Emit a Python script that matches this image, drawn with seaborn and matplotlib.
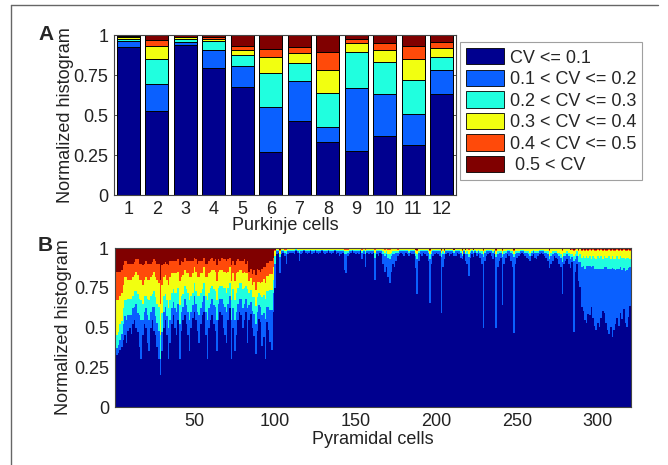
import numpy as np
import pandas as pd
import matplotlib
matplotlib.use('Agg')
import matplotlib.pyplot as plt
from matplotlib.patches import Patch
from matplotlib.lines import Line2D
import seaborn as sns

sns.set_theme(style='white')
plt.rcParams['font.family'] = ['Liberation Sans', 'DejaVu Sans']

# 图例标签与颜色 (jet)
bin_labels = ['CV <= 0.1', '0.1 < CV <= 0.2', '0.2 < CV <= 0.3',
              '0.3 < CV <= 0.4', '0.4 < CV <= 0.5', ' 0.5 < CV']
colors = ['#00008F', '#0A60FF', '#20FFDF', '#F2FF10', '#FF4A0A', '#800000']

# A: Purkinje cells
purkinje_cells = list(range(1, 13))
pk_cv01 = [.927, .525, .938, .792, .677, .271, .463, .333, .277, .371, .313, .631]
pk_cv02 = [.038, .167, .020, .112, .129, .281, .250, .094, .394, .258, .191, .148]
pk_cv03 = [.010, .156, .015, .061, .067, .213, .110, .208, .221, .202, .215, .081]
pk_cv04 = [.015, .083, .012, .012, .033, .100, .062, .146, .060, .075, .129, .057]
pk_cv05 = [.005, .038, .005, .008, .025, .048, .038, .115, .025, .046, .085, .041]
pk_cv06 = [.005, .031, .010, .015, .069, .088, .077, .104, .023, .048, .067, .042]

# B: Pyramidal cells (percent, normalized later)
pyr_cv01 = [
    33, 33, 34, 36, 38, 42, 45, 40, 48, 50, 46, 52, 55, 50, 47, 38, 30, 45, 52, 50,
    40, 35, 50, 55, 48, 45, 38, 30, 20, 35, 50, 55, 45, 30, 40, 52, 58, 50, 45, 55,
    30, 48, 55, 58, 52, 45, 35, 50, 56, 60, 55, 48, 40, 52, 58, 60, 45, 30, 50, 55,
    58, 52, 48, 35, 55, 60, 58, 50, 45, 40, 55, 62, 30, 50, 35, 45, 55, 60, 58, 50,
    55, 60, 40, 58, 62, 55, 48, 35, 50, 60, 58, 40, 45, 30, 55, 50, 40, 35, 60, 75,
    96, 97, 85, 96, 97, 95, 90, 96, 97, 98, 97, 96, 98, 97, 92, 96, 97, 98, 97, 96,
    97, 98, 96, 97, 98, 97, 96, 97, 98, 97, 96, 97, 98, 97, 96, 97, 98, 96, 97, 95,
    96, 97, 86, 84, 95, 96, 97, 98, 97, 96, 97, 96, 98, 93, 96, 88, 97, 96, 97, 96,
    97, 80, 96, 95, 97, 96, 90, 85, 88, 82, 78, 85, 90, 88, 92, 95, 96, 97, 96, 95,
    97, 96, 95, 97, 96, 96, 88, 72, 92, 96, 95, 97, 96, 95, 92, 66, 90, 95, 96, 97,
    96, 95, 60, 88, 94, 96, 97, 95, 96, 97, 96, 95, 97, 96, 94, 95, 96, 93, 90, 83,
    94, 96, 95, 97, 95, 96, 94, 90, 50, 92, 95, 96, 97, 95, 93, 96, 50, 88, 92, 94,
    65, 90, 94, 96, 95, 92, 88, 47, 90, 94, 95, 96, 97, 96, 95, 94, 93, 92, 95, 96,
    94, 93, 95, 96, 97, 96, 95, 94, 92, 88, 90, 92, 95, 94, 93, 90, 88, 72, 90, 92,
    93, 90, 88, 92, 47, 85, 90, 80, 75, 63, 60, 55, 52, 58, 57, 62, 55, 50, 48, 52,
    50, 55, 60, 58, 52, 48, 45, 50, 43, 48, 52, 55, 50, 58, 55, 60, 52, 50, 55, 62]
pyr_cv02 = [
    3, 4, 5, 6, 8, 10, 12, 15, 10, 8, 12, 10, 8, 15, 12, 20, 25, 10, 8, 12,
    18, 20, 10, 8, 15, 12, 15, 18, 10, 12, 10, 8, 12, 20, 15, 10, 8, 12, 15, 10,
    22, 12, 8, 10, 12, 15, 20, 10, 8, 10, 10, 12, 18, 10, 8, 10, 15, 25, 12, 10,
    10, 12, 15, 20, 10, 8, 10, 15, 18, 20, 10, 8, 25, 12, 20, 15, 10, 8, 10, 12,
    10, 8, 22, 10, 8, 12, 15, 20, 12, 10, 10, 20, 15, 25, 10, 15, 20, 25, 12, 15,
    2, 1, 10, 2, 1, 2, 6, 2, 1, 1, 1, 2, 1, 1, 5, 2, 1, 1, 1, 2,
    1, 1, 2, 1, 1, 1, 2, 1, 1, 1, 2, 1, 1, 1, 2, 1, 1, 2, 1, 3,
    2, 1, 10, 12, 2, 2, 1, 1, 1, 2, 1, 2, 1, 4, 2, 8, 1, 2, 1, 2,
    1, 14, 2, 3, 1, 2, 6, 10, 8, 12, 15, 10, 6, 8, 5, 2, 2, 1, 2, 3,
    1, 2, 2, 1, 2, 2, 8, 22, 5, 2, 3, 1, 2, 3, 5, 28, 6, 3, 2, 1,
    2, 3, 35, 8, 3, 2, 1, 3, 2, 1, 2, 3, 1, 2, 3, 2, 2, 4, 6, 12,
    3, 2, 3, 1, 2, 2, 3, 6, 45, 5, 3, 2, 1, 3, 4, 2, 45, 8, 5, 3,
    30, 6, 3, 2, 3, 5, 8, 48, 6, 3, 2, 2, 1, 2, 2, 3, 3, 3, 2, 2,
    3, 4, 2, 2, 1, 2, 2, 3, 4, 6, 5, 4, 2, 3, 3, 5, 6, 20, 5, 3,
    3, 5, 6, 3, 45, 8, 5, 12, 15, 25, 28, 32, 35, 30, 30, 25, 32, 35, 38, 34,
    36, 30, 26, 28, 35, 38, 40, 36, 42, 38, 34, 30, 35, 28, 30, 25, 32, 35, 30, 24]
pyr_cv03 = [
    6, 8, 8, 10, 8, 10, 10, 12, 10, 10, 10, 8, 10, 8, 12, 10, 12, 10, 10, 8,
    10, 12, 10, 8, 10, 12, 12, 15, 15, 12, 10, 8, 10, 12, 12, 10, 8, 10, 12, 10,
    12, 10, 8, 8, 10, 12, 12, 10, 8, 8, 8, 10, 12, 10, 8, 8, 10, 12, 10, 10,
    8, 10, 10, 12, 10, 8, 8, 10, 12, 12, 10, 8, 12, 12, 12, 12, 10, 10, 10, 12,
    10, 8, 12, 8, 8, 10, 12, 12, 10, 8, 8, 12, 12, 12, 10, 10, 12, 12, 8, 5,
    1, 1, 2, 1, 1, 1, 2, 1, 1, 1, 1, 1, 1, 1, 2, 1, 1, 0, 1, 1,
    1, 0, 1, 1, 0, 1, 1, 1, 0, 1, 1, 1, 0, 1, 1, 1, 0, 1, 1, 1,
    1, 1, 2, 2, 1, 1, 1, 0, 1, 1, 1, 1, 0, 1, 1, 2, 1, 1, 1, 1,
    1, 3, 1, 1, 1, 1, 2, 2, 2, 2, 3, 2, 2, 2, 1, 1, 1, 1, 1, 1,
    1, 1, 1, 1, 1, 1, 2, 3, 1, 1, 1, 1, 1, 1, 1, 3, 2, 1, 1, 1,
    1, 1, 3, 2, 1, 1, 1, 1, 1, 1, 1, 1, 1, 1, 1, 1, 1, 1, 2, 2,
    1, 1, 1, 1, 1, 1, 1, 2, 2, 1, 1, 1, 1, 1, 1, 1, 2, 2, 1, 1,
    2, 2, 1, 1, 1, 1, 2, 2, 2, 1, 1, 1, 1, 1, 1, 1, 2, 2, 1, 1,
    1, 1, 1, 1, 1, 1, 1, 1, 2, 2, 2, 2, 1, 1, 1, 2, 2, 3, 2, 2,
    2, 2, 3, 2, 3, 3, 3, 4, 5, 6, 6, 7, 6, 5, 6, 5, 6, 7, 6, 8,
    7, 8, 6, 7, 6, 7, 8, 6, 7, 6, 7, 8, 6, 7, 8, 6, 7, 8, 6, 5]
pyr_cv04 = [
    20, 22, 20, 18, 18, 15, 15, 15, 12, 12, 12, 12, 10, 12, 12, 12, 13, 12, 10, 12,
    12, 13, 12, 12, 12, 13, 15, 15, 20, 18, 12, 12, 13, 15, 15, 12, 10, 12, 12, 10,
    15, 12, 12, 10, 10, 12, 15, 12, 12, 10, 12, 12, 12, 12, 10, 10, 12, 15, 12, 10,
    10, 12, 12, 12, 10, 10, 10, 10, 10, 12, 10, 10, 12, 10, 12, 12, 10, 8, 8, 10,
    10, 8, 10, 8, 8, 8, 10, 10, 10, 8, 8, 10, 10, 10, 10, 10, 10, 10, 8, 3,
    1, 1, 2, 1, 1, 1, 1, 1, 1, 1, 1, 1, 0, 1, 1, 1, 1, 1, 1, 1,
    1, 1, 1, 1, 1, 1, 1, 1, 1, 1, 1, 1, 1, 1, 1, 1, 1, 1, 1, 1,
    1, 1, 1, 1, 1, 1, 1, 1, 1, 1, 1, 1, 1, 1, 1, 1, 1, 1, 1, 1,
    1, 2, 1, 1, 1, 1, 2, 2, 2, 3, 3, 3, 2, 2, 2, 1, 1, 1, 1, 1,
    1, 1, 2, 1, 1, 1, 2, 2, 2, 1, 1, 1, 1, 1, 2, 2, 2, 1, 1, 1,
    1, 1, 1, 2, 1, 1, 1, 1, 1, 1, 1, 1, 1, 1, 2, 2, 1, 2, 2, 3,
    2, 1, 1, 1, 2, 1, 2, 2, 2, 2, 1, 1, 1, 1, 2, 1, 2, 2, 2, 2,
    2, 2, 2, 1, 1, 2, 2, 2, 2, 2, 2, 1, 1, 1, 2, 2, 2, 3, 2, 1,
    2, 2, 2, 1, 1, 1, 2, 2, 2, 3, 3, 2, 2, 2, 3, 3, 4, 4, 3, 3,
    2, 3, 3, 3, 3, 3, 2, 3, 4, 4, 4, 4, 4, 4, 4, 5, 4, 4, 5, 4,
    4, 4, 5, 4, 4, 4, 4, 5, 4, 5, 5, 4, 5, 4, 4, 5, 5, 4, 5, 5]
pyr_cv05 = [
    20, 18, 18, 15, 14, 12, 10, 10, 10, 10, 10, 8, 8, 8, 10, 10, 10, 12, 10, 10,
    10, 10, 8, 8, 8, 10, 10, 12, 15, 12, 8, 8, 10, 12, 10, 8, 8, 8, 8, 8,
    10, 10, 8, 8, 8, 8, 10, 10, 8, 6, 8, 8, 10, 8, 8, 6, 8, 8, 8, 8,
    8, 6, 8, 10, 8, 6, 8, 8, 8, 8, 8, 6, 10, 8, 10, 8, 8, 6, 6, 8,
    8, 6, 8, 6, 6, 8, 8, 10, 8, 8, 8, 8, 8, 10, 8, 8, 8, 8, 6, 1,
    0, 0, 1, 0, 0, 1, 1, 0, 0, 0, 0, 0, 0, 0, 0, 0, 0, 0, 0, 0,
    0, 0, 0, 0, 0, 0, 0, 0, 0, 0, 0, 0, 0, 0, 0, 0, 0, 0, 0, 0,
    0, 0, 1, 1, 1, 0, 0, 0, 0, 0, 0, 0, 0, 1, 0, 1, 0, 0, 0, 0,
    0, 1, 0, 0, 0, 0, 0, 1, 0, 1, 1, 0, 0, 0, 0, 1, 0, 0, 0, 0,
    0, 0, 0, 0, 0, 0, 0, 1, 0, 0, 0, 0, 0, 0, 0, 1, 0, 0, 0, 0,
    0, 0, 1, 0, 1, 0, 0, 0, 0, 0, 0, 0, 0, 0, 0, 1, 0, 0, 0, 1,
    0, 0, 0, 0, 0, 0, 0, 0, 1, 0, 0, 0, 0, 0, 0, 0, 1, 0, 0, 0,
    1, 0, 0, 0, 0, 0, 0, 1, 0, 0, 0, 0, 0, 0, 0, 0, 0, 0, 0, 0,
    0, 0, 0, 0, 0, 0, 0, 0, 0, 1, 0, 0, 0, 0, 0, 0, 0, 1, 0, 0,
    0, 0, 0, 1, 1, 1, 0, 1, 0, 1, 1, 1, 1, 1, 1, 1, 1, 1, 1, 1,
    1, 1, 1, 1, 1, 1, 1, 1, 1, 1, 1, 1, 1, 1, 1, 1, 1, 1, 1, 1]
pyr_cv06 = [
    18, 15, 15, 15, 14, 11, 8, 8, 10, 10, 10, 10, 9, 7, 7, 10, 10, 11, 10, 8,
    10, 10, 10, 9, 7, 8, 10, 10, 20, 11, 10, 9, 10, 11, 8, 8, 8, 8, 8, 7,
    11, 8, 9, 6, 8, 8, 8, 8, 8, 6, 7, 10, 8, 8, 8, 6, 10, 10, 8, 7,
    6, 8, 7, 11, 7, 8, 6, 7, 7, 8, 7, 6, 11, 8, 11, 8, 7, 8, 8, 8,
    7, 10, 8, 16, 14, 18, 15, 18, 14, 15, 16, 14, 12, 12, 10, 10, 8, 8, 6, 1,
    0, 0, 1, 0, 0, 0, 0, 0, 0, 0, 0, 0, 0, 0, 0, 0, 0, 0, 0, 0,
    0, 0, 0, 0, 0, 0, 0, 0, 0, 0, 0, 0, 0, 0, 0, 0, 0, 0, 0, 0,
    0, 0, 0, 0, 0, 0, 0, 0, 0, 0, 0, 0, 0, 0, 0, 0, 0, 0, 0, 0,
    0, 0, 0, 0, 0, 0, 0, 0, 0, 0, 0, 0, 0, 0, 0, 0, 0, 0, 0, 0,
    0, 0, 0, 0, 0, 0, 1, 1, 0, 0, 0, 0, 0, 0, 0, 1, 0, 0, 0, 0,
    0, 0, 1, 0, 1, 0, 0, 0, 0, 0, 1, 0, 0, 0, 0, 1, 0, 1, 0, 0,
    0, 0, 1, 0, 0, 0, 0, 0, 1, 0, 0, 0, 0, 0, 0, 0, 1, 0, 0, 0,
    1, 0, 0, 0, 0, 0, 0, 1, 0, 0, 0, 0, 0, 0, 0, 0, 0, 0, 0, 0,
    0, 0, 0, 0, 0, 0, 0, 0, 0, 1, 0, 0, 0, 0, 0, 0, 0, 1, 0, 0,
    0, 0, 1, 0, 1, 0, 0, 1, 0, 1, 0, 1, 0, 1, 0, 1, 0, 1, 1, 0,
    1, 0, 1, 0, 1, 1, 0, 1, 0, 1, 1, 0, 1, 0, 1, 0, 1, 1, 0, 1]
pyramidal_cells = list(range(1, len(pyr_cv01) + 1))

W, H = 668, 465
FS = 13
fig = plt.figure(figsize=(W / 100, H / 100), dpi=100)
fig.patch.set_facecolor('white')


def fx(px):
    return px / W


def fy(py):
    return 1 - py / H


def stacked(ax, cells, layers, **kw):
    layers = np.array(layers, dtype=float)
    layers = layers / layers.sum(axis=0)  # 归一化直方图
    cum = np.cumsum(layers, axis=0)
    for k in reversed(range(len(layers))):
        df = pd.DataFrame({'cell': cells, 'value': cum[k]})
        sns.barplot(data=df, x='cell', y='value', color=colors[k], saturation=1,
                    errorbar=None, ax=ax, **kw)


def style(ax):
    ax.set_ylim(0, 1)
    ax.set_yticks([0, 0.25, 0.5, 0.75, 1])
    ax.set_yticklabels(['0', '0.25', '0.5', '0.75', '1'])
    ax.tick_params(direction='in', length=4, width=0.6, color='#333333',
                   labelsize=FS, labelcolor='#222222', right=True, top=True,
                   left=True, bottom=True, pad=4)
    for s in ax.spines.values():
        s.set_color('#444444')
        s.set_linewidth(0.8)
    ax.set_facecolor('white')


# 面板 A
axA = fig.add_axes([fx(114), fy(195), fx(456) - fx(114), fy(35) - fy(195)])
stacked(axA, purkinje_cells,
        [pk_cv01, pk_cv02, pk_cv03, pk_cv04, pk_cv05, pk_cv06],
        width=0.8, edgecolor='black', linewidth=0.7)
axA.set_xlim(-0.5, 11.5)
style(axA)
axA.set_xlabel('Purkinje cells', fontsize=FS, color='#222222')
axA.set_ylabel('Normalized histogram', fontsize=FS, color='#222222')
axA.yaxis.set_label_coords(-0.118, 0.5)
axA.xaxis.set_label_coords(0.5, -0.14)

# 面板 B
axB = fig.add_axes([fx(114.5), fy(407), fx(631) - fx(114.5), fy(248) - fy(407)])
stacked(axB, pyramidal_cells,
        [pyr_cv01, pyr_cv02, pyr_cv03, pyr_cv04, pyr_cv05, pyr_cv06],
        native_scale=True, width=1.0, linewidth=0, antialiased=False)
axB.set_xlim(0.5, len(pyramidal_cells) + 0.5)
style(axB)
axB.set_xticks([50, 100, 150, 200, 250, 300])
axB.set_xticklabels(['50', '100', '150', '200', '250', '300'])
axB.set_xlabel('Pyramidal cells', fontsize=FS, color='#222222')
axB.set_ylabel('Normalized histogram', fontsize=FS, color='#222222')
axB.yaxis.set_label_coords(-0.083, 0.5)
axB.xaxis.set_label_coords(0.5, -0.15)

# 图例
handles = [Patch(facecolor=c, edgecolor='black', linewidth=0.6) for c in colors]
leg = fig.legend(handles, bin_labels, loc='upper left',
                 bbox_to_anchor=(fx(460), fy(42)), bbox_transform=fig.transFigure,
                 fontsize=FS, frameon=True, fancybox=False, borderaxespad=0,
                 handlelength=2.1, handleheight=1.0, labelspacing=0.18,
                 handletextpad=0.3, borderpad=0.35)
leg.get_frame().set_edgecolor('#888888')
leg.get_frame().set_linewidth(0.8)

# 面板字母
fig.text(fx(38), fy(35), 'A', fontsize=15, fontweight='bold', va='center')
fig.text(fx(38), fy(245), 'B', fontsize=15, fontweight='bold', va='center')

# 外框
fig.add_artist(Line2D([fx(11), fx(11)], [0, fy(5)], transform=fig.transFigure,
                      color='#666666', linewidth=1))
fig.add_artist(Line2D([fx(11), fx(658)], [fy(5), fy(5)], transform=fig.transFigure,
                      color='#666666', linewidth=1))

fig.savefig('out.png', dpi=100)
